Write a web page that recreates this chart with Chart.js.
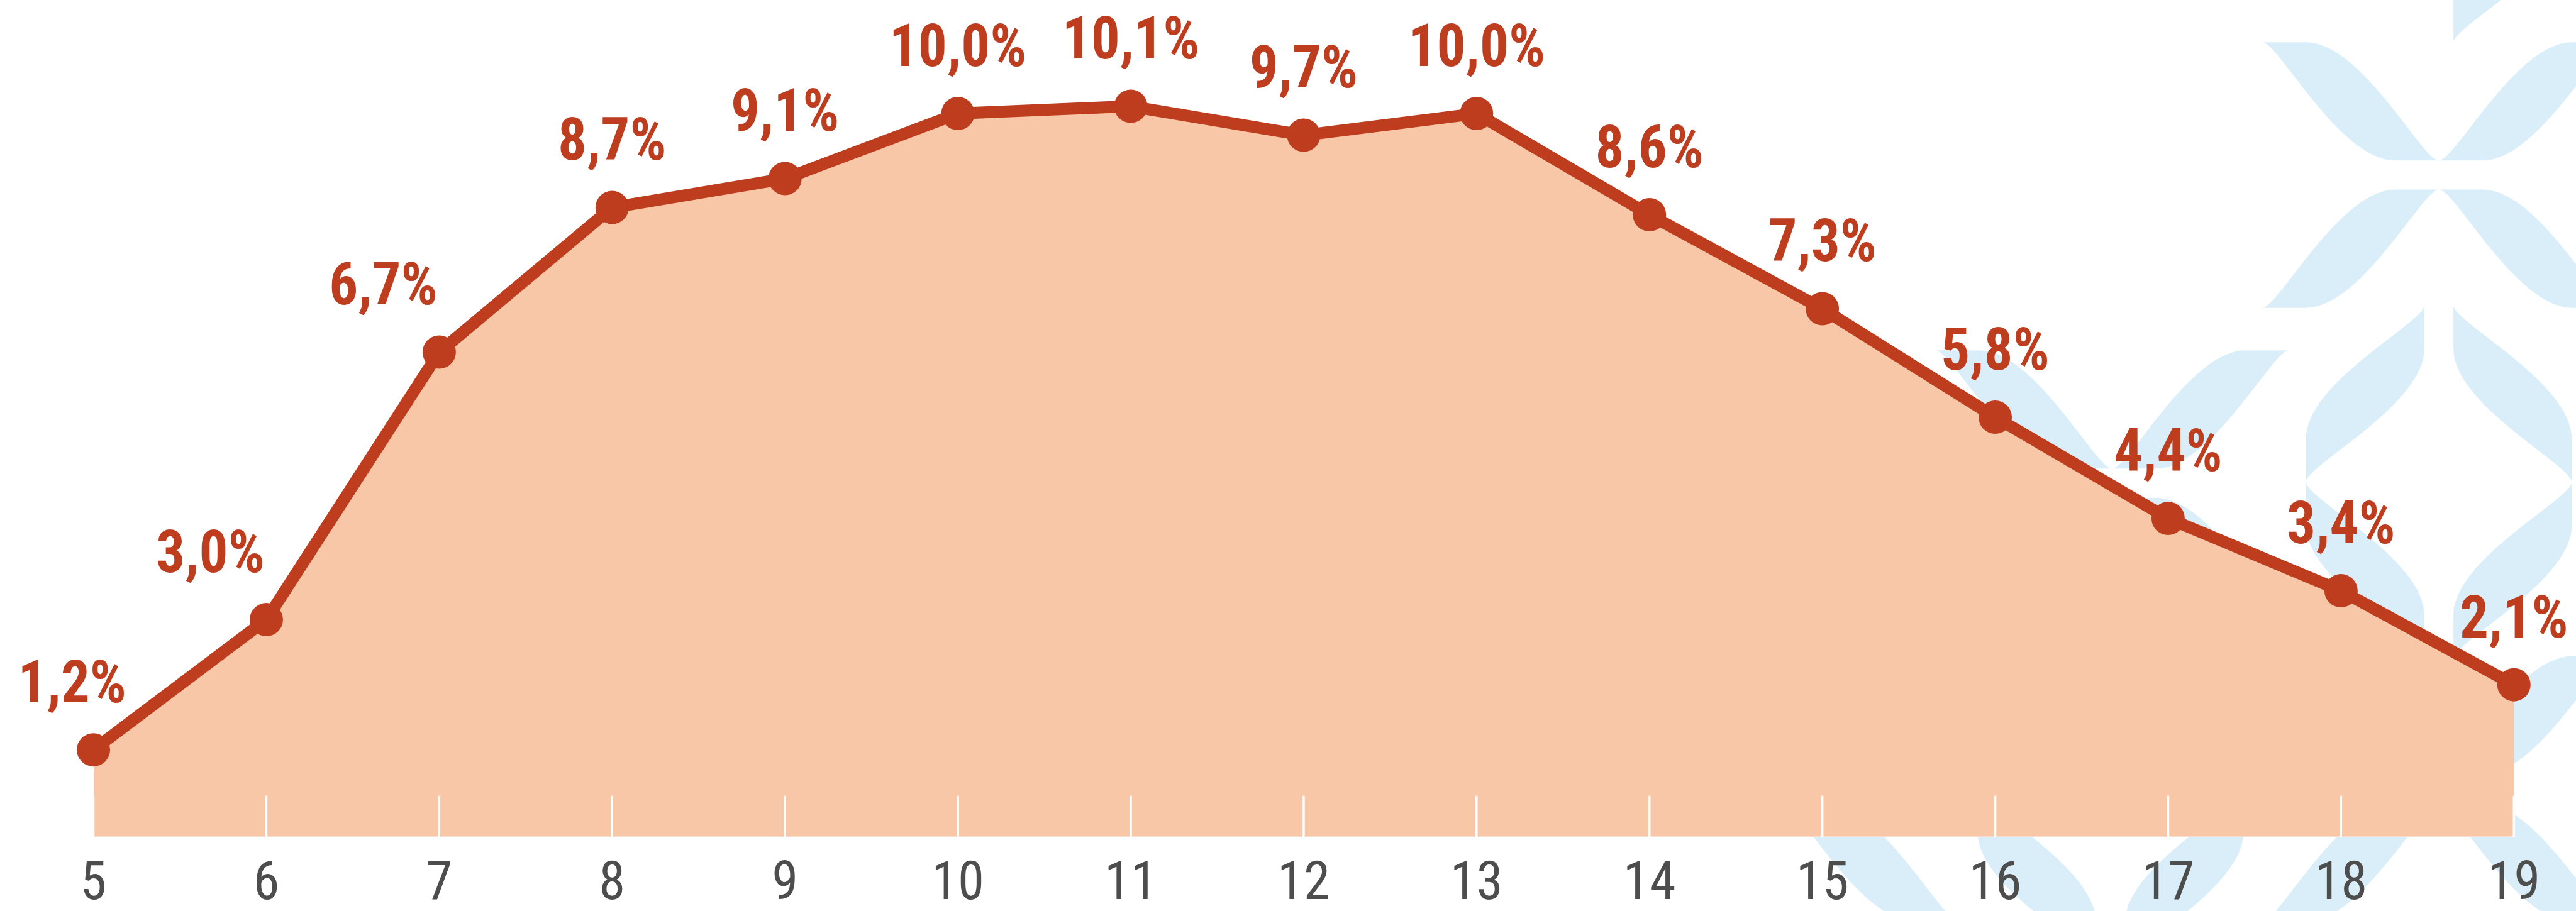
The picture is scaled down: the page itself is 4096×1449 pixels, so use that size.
<!DOCTYPE html>
<html>
<head>
<meta charset="utf-8">
<script src="https://cdn.jsdelivr.net/npm/chart.js@4.4.1/dist/chart.umd.min.js"></script>
<style>
  html, body { margin: 0; padding: 0; background: #ffffff; overflow: hidden; }
  canvas { display: block; }
</style>
</head>
<body>
<canvas id="chart" width="4096" height="1449"></canvas>
<script>
// ---------------- data ----------------
const categories = ['5', '6', '7', '8', '9', '10', '11', '12', '13', '14', '15', '16', '17', '18', '19'];
const shareValues = [1.2, 3.0, 6.7, 8.7, 9.1, 10.0, 10.1, 9.7, 10.0, 8.6, 7.3, 5.8, 4.4, 3.4, 2.1];
const valueLabels = shareValues.map(v => v.toFixed(1).replace('.', ',') + '%');
const yRange = [0, 11];

// ---------------- style ----------------
const S = 4096 / 4605;                 // scale from the reference
const LINE = '#BE3D1E';
const FILL = '#F8C7A8';
const AXIS_TEXT = '#4D4D4D';
const DECOR = '#DAEEF9';

function pickFont(cands, weight) {
  const c = document.createElement('canvas').getContext('2d');
  const test = '10,1% 5678 19';
  for (const f of cands) {
    let installed = false;
    for (const fb of ['monospace', 'serif']) {
      c.font = `${weight} 100px ${fb}`;
      const w0 = c.measureText(test).width;
      c.font = `${weight} 100px '${f}', ${fb}`;
      const w1 = c.measureText(test).width;
      if (Math.abs(w0 - w1) > 0.5) { installed = true; break; }
    }
    if (installed) return f;
  }
  return 'sans-serif';
}
const FAMILY = pickFont(['Roboto Condensed', 'Liberation Sans Narrow', 'Arial Narrow', 'DejaVu Sans Condensed', 'Roboto'], 'bold');
const FONT = `'${FAMILY}', 'Liberation Sans', sans-serif`;
const LABEL_SIZE = 94;
// horizontal condensing so labels keep the reference's narrow proportions
const condense = (() => {
  const c = document.createElement('canvas').getContext('2d');
  c.font = `bold ${LABEL_SIZE}px ${FONT}`;
  const w = c.measureText('10,1%').width;
  const target = 2.325 * LABEL_SIZE;
  return Math.min(1, target / w);
})();

// ---------------- decoration (background ribbons) ----------------
const RB = { W: 316, H: 237.5, w: 78, g: 26, kBig: 0.42, kSmall: 0.125 };
function sCurve(ctx, P, Q, kP, kQ, vertical) {
  if (!vertical) {
    const d = Q[0] - P[0];
    ctx.bezierCurveTo(P[0] + kP * d, P[1], Q[0] - kQ * d, Q[1], Q[0], Q[1]);
  } else {
    const d = Q[1] - P[1];
    ctx.bezierCurveTo(P[0], P[1] + kP * d, Q[0], Q[1] - kQ * d, Q[0], Q[1]);
  }
}
function ribbon(ctx, p1, p2, p3, p4, vertical) {
  ctx.beginPath();
  ctx.moveTo(p1[0], p1[1]);
  ctx.lineTo(p2[0], p2[1]);
  sCurve(ctx, p2, p3, RB.kBig, RB.kSmall, vertical);
  ctx.lineTo(p4[0], p4[1]);
  sCurve(ctx, p4, p1, RB.kBig, RB.kSmall, vertical);
  ctx.closePath();
  ctx.fill();
}
function hTile(ctx, cx, cy, only) {
  const { W, H, w, g } = RB;
  for (const sx of [-1, 1]) for (const sy of [-1, 1]) {
    if (only && !(only[0] === sx && only[1] === sy)) continue;
    ribbon(ctx, [cx + sx * W, cy + sy * H], [cx + sx * (W - w), cy + sy * H],
                [cx, cy + sy * g], [cx + sx * w, cy + sy * g], false);
  }
}
function dTile(ctx, cx, cy, only) {
  const { W, H, w, g } = RB;
  for (const sx of [-1, 1]) for (const sy of [-1, 1]) {
    if (only && !(only[0] === sx && only[1] === sy)) continue;
    ribbon(ctx, [cx + sx * g, cy + sy * W], [cx + sx * g, cy + sy * (W - w)],
                [cx + sx * H, cy], [cx + sx * H, cy + sy * w], true);
  }
}
const decorPlugin = {
  id: 'decor',
  beforeDraw(chart) {
    const ctx = chart.ctx;
    ctx.save();
    ctx.scale(S, S);
    ctx.fillStyle = DECOR;
    dTile(ctx, 4360, -240, [1, 1]);
    hTile(ctx, 4360, 313);
    dTile(ctx, 4360, 862);
    hTile(ctx, 3776, 864);
    hTile(ctx, 4360, 1411);
    dTile(ctx, 3773, 1411);
    hTile(ctx, 3186, 1411, [1, 1]);
    ctx.restore();
  }
};

// white tick marks rising from the base of the area
const tickPlugin = {
  id: 'innerTicks',
  afterDatasetsDraw(chart) {
    const { ctx, chartArea, scales: { x } } = chart;
    ctx.save();
    ctx.strokeStyle = '#ffffff';
    ctx.lineWidth = 3.5;
    categories.forEach((c, i) => {
      const px = x.getPixelForValue(i);
      ctx.beginPath();
      ctx.moveTo(px, chartArea.bottom + 1);
      ctx.lineTo(px, chartArea.bottom - 73 * S);
      ctx.stroke();
    });
    ctx.restore();
  }
};

// value labels above the points
const labelPlugin = {
  id: 'valueLabels',
  afterDatasetsDraw(chart) {
    const ctx = chart.ctx;
    const meta = chart.getDatasetMeta(0);
    const W = chart.width;
    ctx.save();
    ctx.font = `bold ${LABEL_SIZE}px ${FONT}`;
    ctx.fillStyle = LINE;
    ctx.textAlign = 'left';
    ctx.textBaseline = 'alphabetic';
    meta.data.forEach((pt, i) => {
      const txt = valueLabels[i];
      const next = shareValues[i + 1];
      const rising = next !== undefined && next - shareValues[i] > 1;
      const w = ctx.measureText(txt).width * condense;
      let left = rising ? pt.x - w - 3 * S : pt.x - w / 2;
      left = Math.max(32 * S, Math.min(left, W - 14 * S - w));
      ctx.save();
      ctx.translate(left, pt.y - 85 * S);
      ctx.scale(condense, 1);
      ctx.fillText(txt, 0, 0);
      ctx.restore();
    });
    ctx.restore();
  }
};

// ---------------- chart ----------------
const areaBottom = 1496 * S;
const unitPx = 129.3 * S;
const topPad = areaBottom - (yRange[1] - yRange[0]) * unitPx;

new Chart(document.getElementById('chart').getContext('2d'), {
  type: 'line',
  data: {
    labels: categories,
    datasets: [{
      data: shareValues,
      borderColor: LINE,
      backgroundColor: FILL,
      fill: 'origin',
      borderWidth: 19,
      tension: 0,
      borderJoinStyle: 'round',
      borderCapStyle: 'round',
      pointRadius: 26.5,
      pointHoverRadius: 26.5,
      pointBackgroundColor: LINE,
      pointBorderColor: LINE,
      pointBorderWidth: 0,
      clip: false
    }]
  },
  options: {
    responsive: false,
    animation: false,
    devicePixelRatio: 1,
    events: [],
    layout: { padding: { left: 167 * S, right: (4605 - 4494) * S, top: topPad, bottom: 0 } },
    plugins: { legend: { display: false }, tooltip: { enabled: false } },
    scales: {
      x: {
        type: 'category',
        offset: false,
        grid: { display: false, drawTicks: false },
        border: { display: true, color: '#EFEFEF', width: 3 },
        ticks: {
          color: AXIS_TEXT,
          font: { family: FONT, size: 85, weight: 'normal' },
          padding: 27,
          maxRotation: 0,
          autoSkip: false
        },
        afterFit: (scale) => { scale.height = 1449 - areaBottom; }
      },
      y: { display: false, min: yRange[0], max: yRange[1] }
    }
  },
  plugins: [decorPlugin, tickPlugin, labelPlugin]
});
</script>
</body>
</html>
